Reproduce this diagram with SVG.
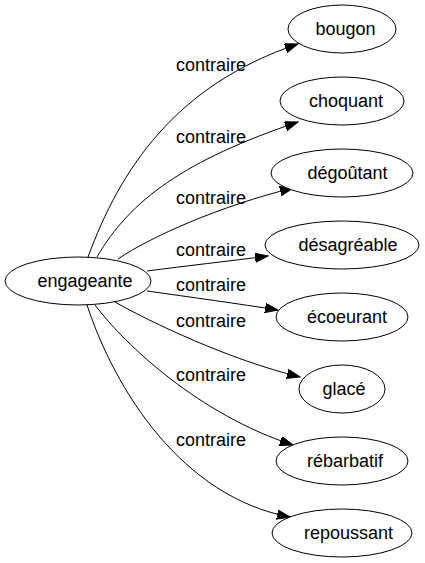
<svg xmlns="http://www.w3.org/2000/svg" width="425" height="563" viewBox="0 0 425 563">
<style>
.node ellipse{fill:#ffffff;stroke:#000000;stroke-width:1}
text{font-family:"Liberation Sans",Arial,sans-serif;font-size:18px;fill:#000000;text-anchor:middle}
.edge{fill:none;stroke:#000000;stroke-width:1;marker-end:url(#arrow)}
</style>
<defs>
<marker id="arrow" markerUnits="userSpaceOnUse" markerWidth="14" markerHeight="10" refX="13" refY="4.7" orient="auto">
<path d="M0,0 L13,4.7 L0,9.4 Z" fill="#000000" stroke="#000000" stroke-width="1"/>
</marker>
</defs>
<rect x="0" y="0" width="425" height="563" fill="#ffffff"/>
<g id="connectors">
<path class="edge" d="M88,257 C120,170 175,85 298,44"/>
<path class="edge" d="M97,257 C130,200 185,160 298,122"/>
<path class="edge" d="M118,259 C150,237 220,206 293,188"/>
<path class="edge" d="M147,271 C185,266 230,261 268,256"/>
<path class="edge" d="M147,291 C190,297 240,304 278,310"/>
<path class="edge" d="M115,302 C150,322 230,360 300,377"/>
<path class="edge" d="M95,305 C125,345 200,415 293,445"/>
<path class="edge" d="M87,305 C115,390 182,497 290,517"/>
<text x="211" y="71">contraire</text>
<text x="211" y="143">contraire</text>
<text x="211" y="204">contraire</text>
<text x="211" y="256">contraire</text>
<text x="211" y="291">contraire</text>
<text x="211" y="327">contraire</text>
<text x="211" y="381">contraire</text>
<text x="211" y="446">contraire</text>
</g>
<g id="engageante" class="node"><ellipse cx="78" cy="281" rx="73" ry="24"/><text x="85" y="287">engageante</text></g>
<g id="bougon" class="node"><ellipse cx="342" cy="29" rx="54" ry="24"/><text x="345.5" y="35">bougon</text></g>
<g id="choquant" class="node"><ellipse cx="342" cy="101" rx="62" ry="24"/><text x="346" y="107">choquant</text></g>
<g id="degoutant" class="node"><ellipse cx="342" cy="173" rx="71" ry="24"/><text x="347.5" y="179">dégoûtant</text></g>
<g id="desagreable" class="node"><ellipse cx="342" cy="245" rx="77" ry="24"/><text x="348" y="251">désagréable</text></g>
<g id="ecoeurant" class="node"><ellipse cx="342" cy="317" rx="66" ry="24"/><text x="347" y="323">écoeurant</text></g>
<g id="glace" class="node"><ellipse cx="342" cy="389" rx="43" ry="24"/><text x="344" y="395">glacé</text></g>
<g id="rebarbatif" class="node"><ellipse cx="342" cy="461" rx="66" ry="24"/><text x="345" y="467">rébarbatif</text></g>
<g id="repoussant" class="node"><ellipse cx="342" cy="533" rx="70" ry="24"/><text x="348.5" y="539">repoussant</text></g>
</svg>
